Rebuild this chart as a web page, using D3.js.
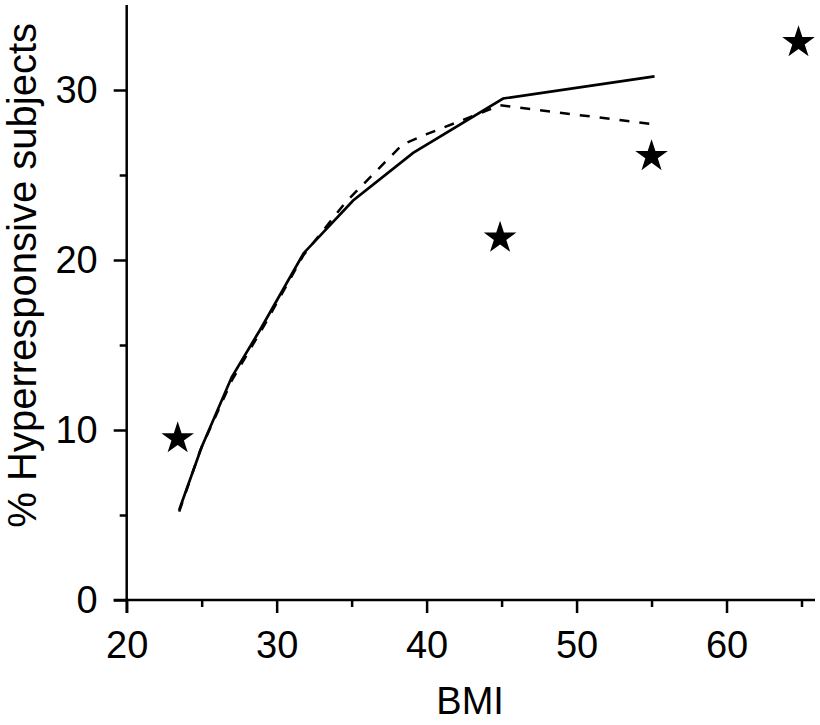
<!DOCTYPE html>
<html>
<head>
<meta charset="utf-8">
<script src="https://cdn.jsdelivr.net/npm/d3@7"></script>
<style>
  body { margin: 0; background: #fff; }
  svg text { font-family: "Liberation Sans", Arial, sans-serif; fill: #000; }
</style>
</head>
<body>
<div id="chart"></div>
<script>
// solid curve
const solidBmi = [23.5, 25.0, 27.0, 28.9, 31.8, 35.1, 39.1, 45.1, 55.2];
const solidPct = [5.3, 9.0, 13.1, 15.9, 20.4, 23.5, 26.3, 29.5, 30.8];

// dashed curve
const dashBmi = [23.5, 24.9, 27.0, 29.2, 31.8, 34.6, 38.4, 40.0, 44.9, 55.0];
const dashPct = [5.2, 8.8, 12.9, 16.2, 20.3, 23.4, 26.8, 27.4, 29.1, 28.0];

// observed points (stars)
const starBmi = [23.4, 44.9, 55.0, 64.8];
const starPct = [9.5, 21.3, 26.1, 32.8];

const xTicks = [20, 30, 40, 50, 60];
const xMinor = [25, 35, 45, 55, 65];
const yTicks = [0, 10, 20, 30];
const yMinor = [5, 15, 25];

const width = 820, height = 725;
const margin = {left: 126.7, top: 5, right: 5, bottom: 125};

const svg = d3.select("#chart")
  .append("svg")
  .attr("width", width)
  .attr("height", height);

const x = d3.scaleLinear()
  .domain([20, 65.9])
  .range([margin.left, width - margin.right]);

const y = d3.scaleLinear()
  .domain([0, 35])
  .range([height - margin.bottom, margin.top]);

const axisY0 = y(0);

// x axis, major then minor ticks
const gx = svg.append("g")
  .attr("transform", `translate(0, ${axisY0})`)
  .call(d3.axisBottom(x).tickValues(xTicks).tickSize(13).tickPadding(18).tickSizeOuter(0));
svg.append("g")
  .attr("transform", `translate(0, ${axisY0})`)
  .call(d3.axisBottom(x).tickValues(xMinor).tickSize(7).tickFormat("").tickSizeOuter(0))
  .select(".domain").remove();

// y axis
const gy = svg.append("g")
  .attr("transform", `translate(${margin.left}, 0)`)
  .call(d3.axisLeft(y).tickValues(yTicks).tickSize(13).tickPadding(16).tickSizeOuter(0));
svg.append("g")
  .attr("transform", `translate(${margin.left}, 0)`)
  .call(d3.axisLeft(y).tickValues(yMinor).tickSize(7).tickFormat("").tickSizeOuter(0))
  .select(".domain").remove();

// the two axes cross a little at the origin
gx.select(".domain").attr("d", `M${margin.left - 13},0H${width - margin.right}`);
gy.select(".domain").attr("d", `M0,${margin.top}V${axisY0 + 13}`);

svg.selectAll(".domain, .tick line")
  .attr("stroke", "#000")
  .attr("stroke-width", 2.5);

svg.selectAll(".tick text")
  .style("font-size", "38px");
gx.selectAll(".tick text").attr("dy", "0.71em");

// axis titles
svg.append("text")
  .attr("x", x(42.9))
  .attr("y", 714)
  .attr("text-anchor", "middle")
  .style("font-size", "38px")
  .text("BMI");

svg.append("text")
  .attr("transform", `translate(36, ${y(19.1)}) rotate(-90)`)
  .attr("text-anchor", "middle")
  .style("font-size", "40px")
  .text("% Hyperresponsive subjects");

// curves
const line = d3.line()
  .x(d => x(d[0]))
  .y(d => y(d[1]));

svg.append("path")
  .datum(d3.zip(dashBmi, dashPct))
  .attr("d", line)
  .attr("fill", "none")
  .attr("stroke", "#000")
  .attr("stroke-width", 2.5)
  .attr("stroke-dasharray", "10,10");

svg.append("path")
  .datum(d3.zip(solidBmi, solidPct))
  .attr("d", line)
  .attr("fill", "none")
  .attr("stroke", "#000")
  .attr("stroke-width", 2.7);

// stars
const star = d3.symbol().type(d3.symbolStar).size(330);
svg.selectAll(".star")
  .data(d3.zip(starBmi, starPct))
  .enter()
  .append("path")
  .attr("class", "star")
  .attr("d", star)
  .attr("transform", d => `translate(${x(d[0])}, ${y(d[1])})`)
  .attr("fill", "#000");
</script>
</body>
</html>
